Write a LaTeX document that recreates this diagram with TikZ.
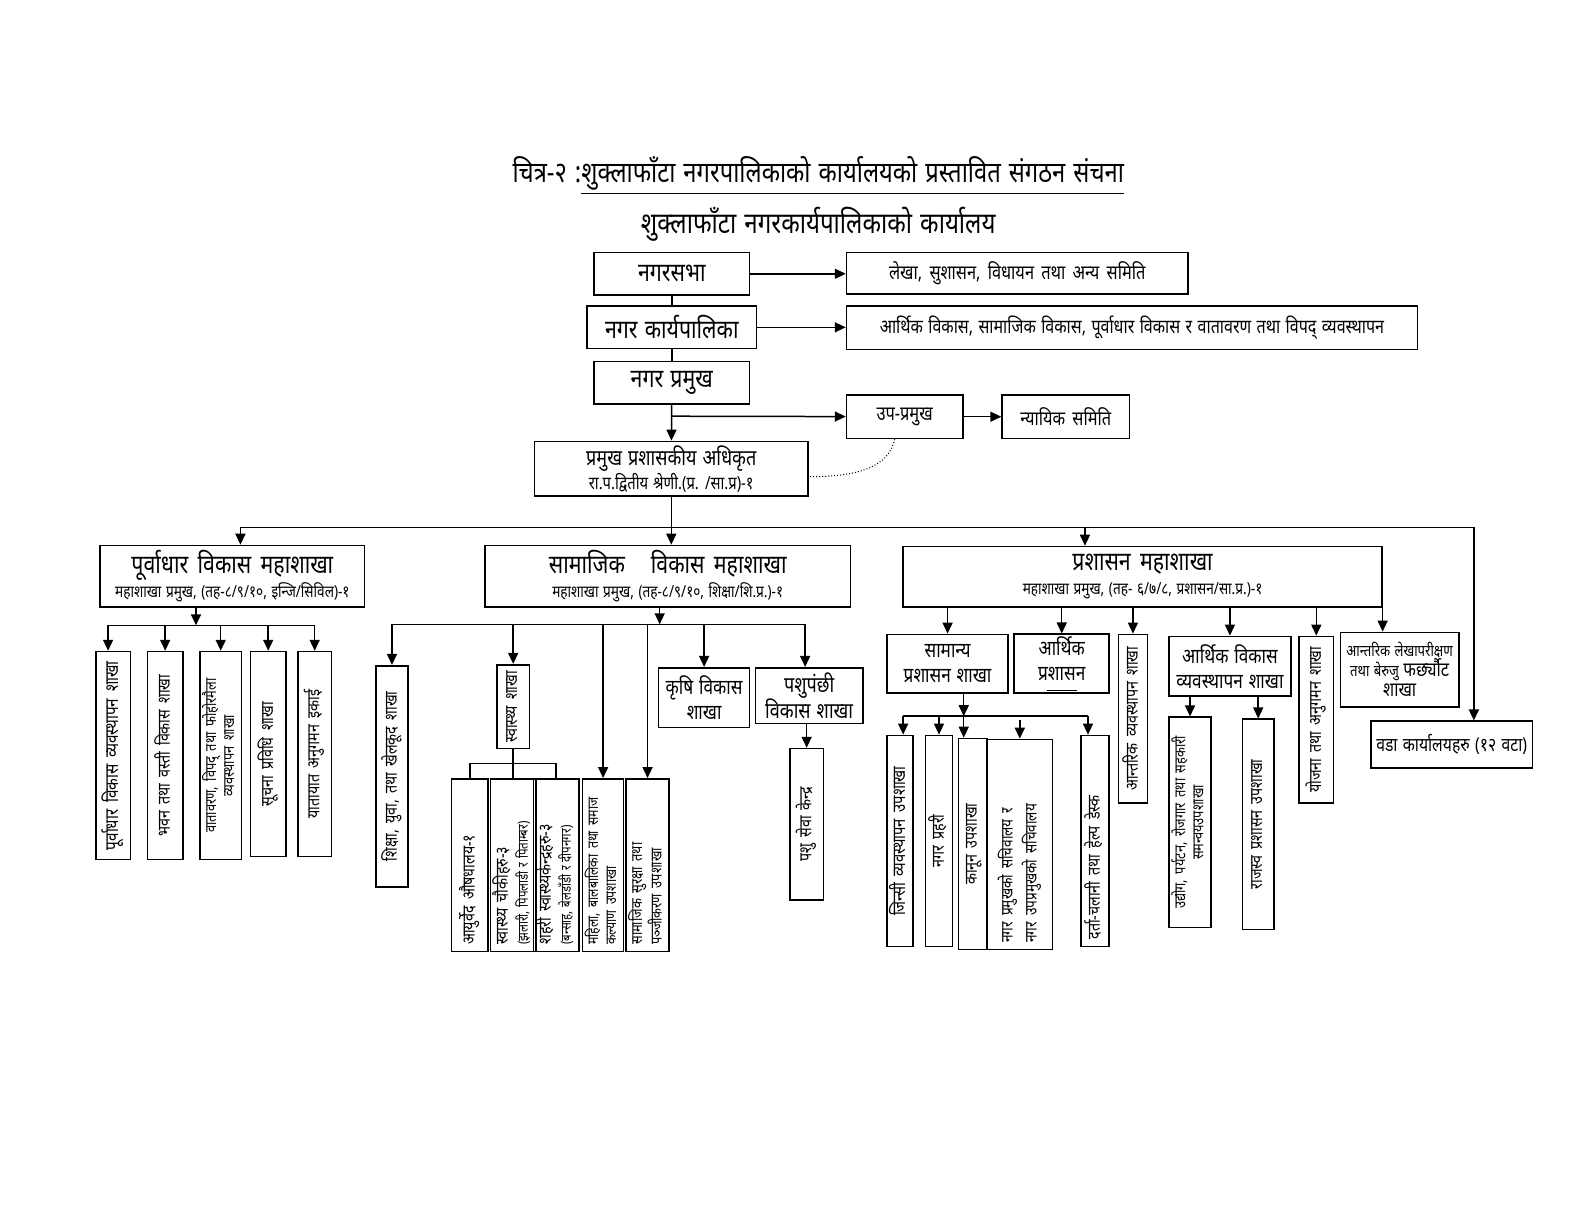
\documentclass[tikz,border=0pt]{standalone}
\usepackage{fontspec}
\setmainfont[Script=Devanagari,FakeStretch=0.82,WordSpace=1.3]{Noto Sans}
\usepackage{graphicx}
\usetikzlibrary{arrows.meta}
\newcommand\fsz[2]{\fontsize{#1}{#2}\selectfont}
\newcommand\vc[1]{\rotatebox{90}{\begin{tabular}{@{}c@{}}#1\end{tabular}}}
\newcommand\vl[2]{\rotatebox{90}{\makebox[\dimexpr0.505pt*#1-7pt\relax][l]{\begin{tabular}{@{}l@{}}#2\end{tabular}}}}
\newcommand\BoxH[7]{\node[bx,#6,minimum width={(#4-#2)*0.505pt},minimum height={(#5-#3)*0.505pt}] (#1) at ({(#2+#4)/2},{(#3+#5)/2}) {#7};}
\tikzset{
  bx/.style={draw,line width=0.8pt,inner sep=1pt,align=center},
  ln/.style={line width=0.75pt},
  arr/.style={ln,-{Triangle[length=5.5pt,width=5pt]}},
  top/.style={font=\bfseries\fsz{13}{15}},
  rbox/.style={font=\bfseries\fsz{10}{12}},
  vt/.style={font=\bfseries\fsz{8.7}{10}},
  hs/.style={font=\bfseries\fsz{10.5}{12.5}},
}
\begin{document}
\begin{tikzpicture}[x=0.505pt,y=-0.505pt]
\useasboundingbox (0,0) rectangle (1568,1212);
\node[font=\fsz{14.5}{18}] (title) at (810,174) {चित्र-२ :\underline{शुक्लाफाँटा नगरपालिकाको कार्यालयको प्रस्तावित संगठन संचना}};
\node[font=\fsz{14.7}{18}] (subtitle) at (810,222) {शुक्लाफाँटा नगरकार्यपालिकाको कार्यालय};

% top chain
\BoxH{sabha}{588}{250}{742}{292}{top}{नगरसभा}
\BoxH{lekha}{838}{250}{1176}{291}{rbox}{लेखा, सुशासन, विधायन तथा अन्य समिति}
\BoxH{karya}{581}{303}{749}{345}{top}{नगर कार्यपालिका}
\BoxH{bikas}{838}{303}{1403}{346}{rbox,font=\bfseries\fsz{9.8}{12}}{आर्थिक विकास, सामाजिक विकास, पूर्वाधार विकास र वातावरण तथा विपद् व्यवस्थापन}
\BoxH{pramukh}{588}{358}{742}{400}{top}{नगर प्रमुख}
\BoxH{upa}{838}{391}{953}{434}{rbox}{उप-प्रमुख}
\BoxH{nyayik}{992}{391}{1118}{434}{rbox}{न्यायिक समिति}
\BoxH{cao}{529}{437}{800}{491}{}{{\bfseries\fsz{11}{14}प्रमुख प्रशासकीय अधिकृत}\\{\fsz{9}{11}रा.प.द्वितीय श्रेणी.(प्र. /सा.प्र)-१}}

\draw[ln] (sabha) -- (karya);
\draw[ln] (karya) -- (pramukh);
\draw[arr] (pramukh) -- (cao);
\coordinate (j1) at (665,412);
\draw[arr] (j1) -- (upa);
\draw[arr] (upa) -- (nyayik);
\draw[arr] (sabha.east) -- (sabha.east -| lekha.west);
\draw[arr] (karya.east) -- (karya.east -| bikas.west);
\draw[densely dotted,line width=0.5pt] ([xshift=-5pt]upa.south) .. controls (880,462) and (850,472) .. ([yshift=-4pt]cao.east);

% mahashakha
\BoxH{pur}{99}{540}{361}{601}{}{{\fsz{13}{16}पूर्वाधार विकास महाशाखा}\\{\bfseries\fsz{8.3}{10}महाशाखा प्रमुख, (तह-८/९/१०, इन्जि/सिविल)-१}}
\BoxH{sam}{480}{540}{842}{601}{}{{\fsz{13}{16}सामाजिक\quad विकास महाशाखा}\\{\bfseries\fsz{8.3}{10}महाशाखा प्रमुख, (तह-८/९/१०, शिक्षा/शि.प्र.)-१}}
\BoxH{pra}{894}{541}{1368}{601}{}{{\fsz{13}{16}प्रशासन महाशाखा}\\{\bfseries\fsz{8.3}{10}महाशाखा प्रमुख, (तह- ६/७/८, प्रशासन/सा.प्र.)-१}}
\BoxH{wada}{1357}{714}{1517}{760}{rbox,font=\bfseries\fsz{9.6}{12}}{वडा कार्यालयहरु (१२ वटा)}

\coordinate (busL) at (238,522);
\coordinate (busR) at (1459,522);
\coordinate (busP) at (1074,522);
\draw[ln] (cao) -- (cao.south |- busL);
\draw[ln] (busL) -- (busR);
\draw[arr] (busL) -- (busL |- pur.north);
\draw[arr] (cao.south |- busL) -- (cao.south |- sam.north);
\draw[arr] (busP) -- (busP |- pra.north);
\draw[arr] (busR) -- (busR |- wada.north);

% purvadhar children
\BoxH{pv1}{95}{645}{129}{851}{vt,font=\bfseries\fsz{9.3}{10}}{\vc{पूर्वाधार विकास व्यवस्थापन शाखा}}
\BoxH{pv2}{146}{645}{181}{851}{vt}{\vc{भवन तथा वस्ती विकास शाखा}}
\BoxH{pv3}{199}{645}{238}{851}{vt,font=\bfseries\fsz{7.8}{9}}{\vc{वातावरण, विपद् तथा फोहोरमैला\\व्यवस्थापन शाखा}}
\BoxH{pv4}{248}{645}{283}{848}{vt}{\vc{सूचना प्रविधि शाखा}}
\BoxH{pv5}{295}{645}{328}{848}{vt}{\vc{यातायात अनुगमन इकाई}}
\coordinate (pbL) at (107,619);
\coordinate (pbM) at (194,619);
\coordinate (pbR) at (311,619);
\draw[arr] (pbM |- pur.south) -- (pbM);
\draw[ln] (pbL) -- (pbR);
\draw[arr] (pbL) -- (pbL |- pv1.north);
\foreach \n in {pv2,pv3,pv4,pv5} \draw[arr] (\n.north |- pbL) -- (\n.north);

% samajik children
\BoxH{shiksha}{372}{659}{404}{878}{vt}{\vc{शिक्षा, युवा, तथा खेलकूद शाखा}}
\BoxH{swas}{492}{658}{524}{741}{vt}{\vc{स्वास्थ्य शाखा}}
\BoxH{ayur}{447}{771}{483}{942}{vt}{\vl{171}{आयुर्वेद औषधालय-१}}
\BoxH{chauki}{489}{771}{527}{942}{vt}{\vl{171}{स्वास्थ्य चौकीहरु-३\\{\mdseries\fsz{7}{8}(झलारी, पिपलाडी र पिताम्बर)}}}
\BoxH{shahari}{530}{771}{571}{942}{vt}{\vl{171}{शहरी स्वास्थ्यकेन्द्रहरु-३\\{\mdseries\fsz{7}{8}(बन्साह, बेलडाँडी र दीपनगर)}}}
\BoxH{mahila}{577}{771}{617}{942}{vt,font=\bfseries\fsz{7.5}{9}}{\vl{171}{महिला, बालबालिका तथा समाज\\कल्याण उपशाखा}}
\BoxH{suraksha}{621}{771}{661}{942}{vt,font=\bfseries\fsz{7.8}{9}}{\vl{171}{सामाजिक सुरक्षा तथा\\पञ्जीकरण उपशाखा}}
\BoxH{krishi}{652}{661}{742}{720}{hs}{कृषि विकास\\शाखा}
\BoxH{pashu}{748}{661}{854}{716}{hs,font=\bfseries\fsz{11}{13}}{पशुपंछी\\विकास शाखा}
\BoxH{sewa}{782}{741}{815}{891}{vt}{\vc{पशु सेवा केन्द्र}}
\coordinate (sbL) at (388,618);
\coordinate (sbM) at (653,618);
\coordinate (sbR) at (797,618);
\draw[arr] (sbM |- sam.south) -- (sbM);
\draw[ln] (sbL) -- (sbR);
\foreach \n in {shiksha,swas,mahila,suraksha,krishi} \draw[arr] (\n.north |- sbL) -- (\n.north);
\draw[arr] (sbR) -- (sbR |- pashu.north);
\coordinate (hb) at (508,756);
\draw[ln] (swas.south) -- (swas.south |- hb);
\draw[ln] (ayur.north) -- (ayur.north |- hb) -| (shahari.north);
\draw[ln] (chauki.north |- hb) -- (chauki.north);
\draw[arr] (sewa.north |- pashu.south) -- (sewa.north);

% prashasan children
\BoxH{samanya}{878}{628}{998}{686}{hs}{सामान्य\\प्रशासन शाखा}
\BoxH{arpra}{1004}{628}{1098}{686}{hs}{आर्थिक\\प्रशासन\\[-7pt]\rule{15pt}{0.4pt}}
\BoxH{antarik}{1107}{628}{1136}{795}{vt}{\vc{आन्तरिक व्यवस्थापन शाखा}}
\BoxH{avk}{1157}{630}{1278}{689}{hs}{आर्थिक विकास\\व्यवस्थापन शाखा}
\BoxH{yojana}{1286}{630}{1320}{795}{vt}{\vc{योजना तथा अनुगमन शाखा}}
\BoxH{lekhap}{1327}{626}{1444}{700}{font=\bfseries\fsz{8}{10}}{आन्तरिक लेखापरीक्षण\\तथा बेरुजु {\fsz{10}{10}फर्छ्यौट}\\{\fsz{10}{11}शाखा}}
\foreach \n in {samanya,arpra,antarik,avk,yojana} \draw[arr] (\n.north |- pra.south) -- (\n.north);
\draw[arr] ([xshift=-8.5pt]lekhap.north |- pra.south) -- ([xshift=-8.5pt]lekhap.north);

\BoxH{jinsi}{878}{728}{904}{937}{vt,font=\bfseries\fsz{9}{10}}{\vc{जिन्सी व्यवस्थापन उपशाखा}}
\BoxH{prahari}{916}{728}{943}{937}{vt}{\vc{नगर प्रहरी}}
\BoxH{kanun}{949}{731}{977}{940}{vt}{\vc{कानून उपशाखा}}
\BoxH{sachib}{977}{732}{1042}{940}{vt,font=\fsz{8.3}{12}}{\vl{208}{नगर प्रमुखको सचिवालय र\\नगर उपप्रमुखको सचिवालय}}
\BoxH{darta}{1070}{728}{1098}{937}{vt}{\vl{209}{दर्ता-चलानी तथा हेल्प डेस्क}}
\coordinate (gbL) at (894,709);
\coordinate (gbM) at (954,709);
\coordinate (gbR) at (1077,709);
\draw[arr] (gbM |- samanya.south) -- (gbM);
\draw[ln] (gbL) -- (gbR);
\draw[arr] (gbL) -- (gbL |- jinsi.north);
\draw[arr] (prahari.north |- gbL) -- (prahari.north);
\draw[arr] (gbM) -- (gbM |- kanun.north);
\draw[arr] ([yshift=-2pt]sachib.north |- gbL) -- (sachib.north);
\draw[arr] (gbR) -- (gbR |- darta.north);

\BoxH{udyog}{1157}{710}{1199}{918}{vt,font=\bfseries\fsz{7.8}{9}}{\vc{उद्योग, पर्यटन, रोजगार तथा सहकारी\\समन्वयउपशाखा}}
\BoxH{rajaswa}{1230}{712}{1261}{920}{vt}{\vc{राजस्व प्रशासन उपशाखा}}
\draw[arr] (udyog.north |- avk.south) -- (udyog.north);
\draw[arr] (rajaswa.north |- avk.south) -- (rajaswa.north);
\end{tikzpicture}
\end{document}
